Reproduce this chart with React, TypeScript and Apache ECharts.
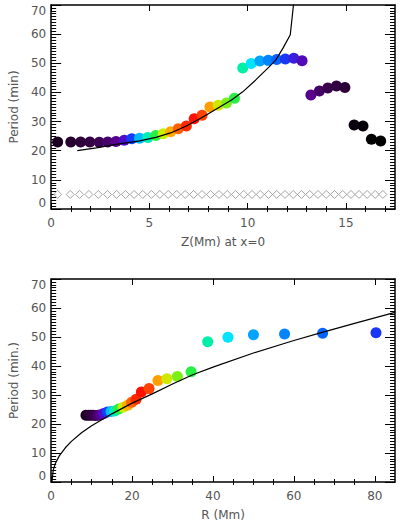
import React, { useEffect, useRef } from "react";
import * as echarts from "echarts";

// ---- data ----
// Top panel: period of oscillation versus height Z (Mm) at x = 0
const zHeight = [
  0.33, 1.0, 1.5, 1.97, 2.45, 2.88, 3.3, 3.72, 4.1, 4.5, 4.92, 5.33, 5.7, 6.08, 6.47, 6.88, 7.28, 7.68, 8.08,
  8.5, 8.92, 9.33, 9.75, 10.18, 10.62, 11.05, 11.48, 11.92, 12.35, 12.77, 13.22, 13.65, 14.08, 14.52, 14.95,
  15.42, 15.87, 16.3, 16.77,
];
const period = [
  23.0, 23.0, 23.0, 23.0, 22.9, 23.0, 23.2, 23.6, 24.1, 24.3, 24.5, 25.2, 25.8, 26.5, 27.5, 28.5, 31.0, 32.2, 35.0,
  35.6, 36.4, 38.0, 48.4, 49.9, 50.8, 51.0, 51.3, 51.5, 51.7, 50.9, 39.1, 40.5, 41.5, 42.2, 41.7,
  28.8, 28.5, 23.9, 23.3,
];
// colour index (0 = black ... 100 = red) of each point
const colourLevel = [
  5, 7, 9, 11, 14, 18, 23, 30, 38, 50, 60, 68, 77, 85, 91, 97, 100, 94, 86,
  78, 73, 68, 61, 54, 48, 45, 42, 37, 33, 28, 23, 17, 13, 10, 8,
  2, 1, 0, 0,
];
// Bottom panel: same points against R (Mm) (first 28 points)
const loopRadius = [
  8.6, 9.2, 9.8, 10.4, 11.0, 11.6, 12.3, 13.0, 13.9, 14.8, 15.7, 16.7, 17.8, 18.9, 19.9, 21.0, 22.3, 24.2, 26.4,
  28.6, 31.2, 34.6, 38.7, 43.7, 50.0, 57.7, 67.1, 80.3,
];
// open diamonds (top panel)
const diamondZ = [
  0.33, 0.97, 1.45, 1.92, 2.4, 2.87, 3.33, 3.78, 4.22, 4.66, 5.1, 5.53, 5.96, 6.39, 6.82, 7.25, 7.68, 8.11, 8.54,
  8.96, 9.38, 9.8, 10.22, 10.64, 11.06, 11.48, 11.9, 12.32, 12.74, 13.16, 13.58, 14.0, 14.42, 14.84, 15.26,
  15.67, 16.08, 16.49, 16.88,
];
const diamondPeriod = [
  5, 5, 5, 5, 5, 5, 5, 5, 5, 5, 5, 5, 5, 5, 5, 5, 5, 5, 5,
  5, 5, 5, 5, 5, 5, 5, 5, 5, 5, 5, 5, 5, 5, 5, 5,
  5, 5, 5, 5,
];
// model curves
const topCurveZ = [1.33, 2.3, 3.3, 4.5, 5.33, 6.08, 6.88, 7.68, 8.58, 9.2, 9.75, 10.4, 11.08, 11.42, 11.8, 12.17, 12.38];
const topCurveP = [20.0, 21.0, 22.2, 23.4, 24.6, 26.1, 28.5, 31.4, 35.0, 37.5, 40.2, 44.2, 48.7, 51.0, 55.2, 59.8, 73.0];
const bottomCurveR = [0.2, 0.5, 1, 2, 3.5, 5, 7.5, 10, 15, 20, 25, 30, 35, 40, 50, 60, 67, 75, 85];
const bottomCurveP = [0, 4, 6.3, 9, 11.8, 14, 17, 19.4, 23.5, 27.2, 30.4, 33.8, 37, 39.6, 44.5, 48.8, 51.6, 54.7, 58.5];

// ticks
const topXMajor = [0, 5, 10, 15];
const topXMinor = [1, 2, 3, 4, 6, 7, 8, 9, 11, 12, 13, 14, 16, 17];
const bottomXMajor = [0, 20, 40, 60, 80];
const bottomXMinor = [5, 10, 15, 25, 30, 35, 45, 50, 55, 65, 70, 75];

// ---- styles ----
const rainbow = [
  "#000000", "#2a0034", "#40005a", "#5a0090", "#4a10d0", "#1040ff", "#0090ff",
  "#00e4ff", "#00f0a0", "#30f030", "#c8f000", "#ffb000", "#ff5000", "#ff1000",
];
function hexToRgb(h: string) {
  return [parseInt(h.slice(1, 3), 16), parseInt(h.slice(3, 5), 16), parseInt(h.slice(5, 7), 16)];
}
function colourOf(level: number) {
  const t = Math.max(0, Math.min(1, level / 100)) * (rainbow.length - 1);
  const i = Math.min(rainbow.length - 2, Math.floor(t));
  const f = t - i;
  const a = hexToRgb(rainbow[i]);
  const b = hexToRgb(rainbow[i + 1]);
  const c = a.map((v, k) => Math.round(v + (b[k] - v) * f));
  return `rgb(${c[0]},${c[1]},${c[2]})`;
}

const FONT = "DejaVu Sans";
const TXT = "#555";
const lineStyle = { color: "#000", width: 1.5 };
const tickStyle = { color: "#000", width: 1 };

function xAxesFor(grid: number, min: number, max: number, major: number[], minor: number[], name: string) {
  const base = { type: "value", gridIndex: grid, min, max, splitLine: { show: false } };
  return [
    {
      ...base,
      position: "bottom",
      name,
      nameLocation: "middle",
      nameGap: 27,
      nameTextStyle: { color: TXT, fontFamily: FONT, fontSize: 12 },
      axisLine: { show: true, onZero: false, lineStyle },
      axisTick: { show: true, inside: true, length: 6, customValues: major, lineStyle: tickStyle },
      axisLabel: { show: true, customValues: major, margin: 8, color: TXT, fontFamily: FONT, fontSize: 12 },
    },
    {
      ...base,
      position: "bottom",
      axisLine: { show: false },
      axisTick: { show: true, inside: true, length: 3, customValues: minor, lineStyle: tickStyle },
      axisLabel: { show: false },
    },
    {
      ...base,
      position: "top",
      axisLine: { show: true, onZero: false, lineStyle },
      axisTick: { show: true, inside: true, length: 6, customValues: major, lineStyle: tickStyle },
      axisLabel: { show: false },
    },
    {
      ...base,
      position: "top",
      axisLine: { show: false },
      axisTick: { show: true, inside: true, length: 3, customValues: minor, lineStyle: tickStyle },
      axisLabel: { show: false },
    },
  ];
}

function yAxesFor(grid: number, name: string) {
  const base = {
    type: "value",
    gridIndex: grid,
    min: 0,
    max: 70,
    interval: 10,
    splitLine: { show: false },
    axisLine: { show: true, onZero: false, lineStyle },
    axisTick: { show: true, inside: true, length: 10, lineStyle: tickStyle },
    minorTick: { show: true, splitNumber: 10, length: 5, lineStyle: tickStyle },
  };
  return [
    {
      ...base,
      position: "left",
      name,
      nameLocation: "middle",
      nameGap: 27,
      nameRotate: 90,
      nameTextStyle: { color: TXT, fontFamily: FONT, fontSize: 12 },
      axisLabel: {
        show: true,
        margin: 5,
        color: TXT,
        fontFamily: FONT,
        fontSize: 12,
        verticalAlignMinLabel: "bottom",
        verticalAlignMaxLabel: "top",
      },
    },
    { ...base, position: "right", axisLabel: { show: false } },
  ];
}

export default function App() {
  const ref = useRef<HTMLDivElement>(null);
  useEffect(() => {
    if (!ref.current) return;
    const chart = echarts.init(ref.current, null, { renderer: "svg" });
    const dotColour = (p: any) => colourOf(p.value[2]);
    chart.setOption({
      animation: false,
      backgroundColor: "#fff",
      grid: [
        { left: 45, top: 5, width: 350, height: 204 },
        { left: 45, top: 279, width: 350, height: 203 },
      ],
      xAxis: [
        ...xAxesFor(0, 0, 17.5, topXMajor, topXMinor, "Z(Mm) at x=0"),
        ...xAxesFor(1, 0, 85, bottomXMajor, bottomXMinor, "R (Mm)"),
      ],
      yAxis: [...yAxesFor(0, "Period (min)"), ...yAxesFor(1, "Period (min.)")],
      series: [
        {
          type: "scatter",
          xAxisIndex: 0,
          yAxisIndex: 0,
          symbolSize: 8,
          symbol: "diamond",
          data: diamondZ.map((z, i) => [z, diamondPeriod[i]]),
          itemStyle: { color: "#fff", borderColor: "#8c8c8c", borderWidth: 1 },
          silent: true,
          z: 2,
        },
        {
          type: "scatter",
          xAxisIndex: 0,
          yAxisIndex: 0,
          symbolSize: 11,
          data: zHeight.map((z, i) => [z, period[i], colourLevel[i]]),
          itemStyle: { color: dotColour, opacity: 1 },
          silent: true,
          z: 3,
        },
        {
          type: "line",
          xAxisIndex: 0,
          yAxisIndex: 0,
          showSymbol: false,
          data: topCurveZ.map((z, i) => [z, topCurveP[i]]),
          lineStyle: { color: "#000", width: 1.2 },
          silent: true,
          z: 4,
        },
        {
          type: "scatter",
          xAxisIndex: 4,
          yAxisIndex: 2,
          symbolSize: 11,
          data: loopRadius.map((r, i) => [r, period[i], colourLevel[i]]),
          itemStyle: { color: dotColour, opacity: 1 },
          silent: true,
          z: 3,
        },
        {
          type: "line",
          xAxisIndex: 4,
          yAxisIndex: 2,
          showSymbol: false,
          data: bottomCurveR.map((r, i) => [r, bottomCurveP[i]]),
          lineStyle: { color: "#000", width: 1.2 },
          silent: true,
          z: 4,
        },
      ],
    });
    return () => chart.dispose();
  }, []);
  return (
    <div
      ref={ref}
      style={{ position: "fixed", left: 0, top: 0, width: 415, height: 525, background: "#fff" }}
    />
  );
}
